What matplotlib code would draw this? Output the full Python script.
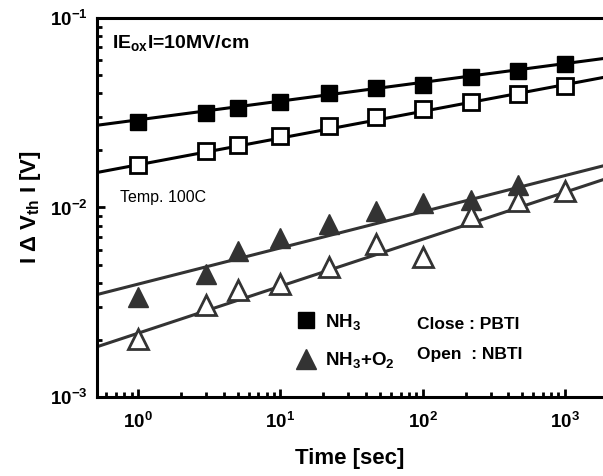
import numpy as np
import matplotlib
matplotlib.use("Agg")
import matplotlib.pyplot as plt
from matplotlib.lines import Line2D

plt.rcParams['font.family'] = ['Liberation Sans', 'DejaVu Sans']
plt.rcParams['font.weight'] = 'bold'
plt.rcParams['mathtext.fontset'] = 'custom'
plt.rcParams['mathtext.rm'] = 'Liberation Sans:bold'
plt.rcParams['mathtext.bf'] = 'Liberation Sans:bold'
plt.rcParams['mathtext.it'] = 'Liberation Sans:bold'
plt.rcParams['mathtext.default'] = 'bf'

# stress time [sec]
t_sq = [1, 3, 5, 10, 22, 47, 100, 220, 470, 1000]
t_tri_close = [1, 3, 5, 10, 22, 47, 100, 220, 470]
t_tri_open = [1, 3, 5, 10, 22, 47, 100, 220, 470, 1000]

# |dVth| [V]
nh3_pbti = [0.0282, 0.0314, 0.0334, 0.0360, 0.0401, 0.0426, 0.0442, 0.0488, 0.0524, 0.0571]
nh3_nbti = [0.0167, 0.0198, 0.0213, 0.0238, 0.0268, 0.0299, 0.0330, 0.0360, 0.0396, 0.0437]
nh3o2_pbti = [0.00338, 0.00448, 0.00592, 0.00694, 0.00823, 0.00964, 0.0105, 0.0110, 0.0132]
nh3o2_nbti = [0.00203, 0.00307, 0.00368, 0.00396, 0.00488, 0.00645, 0.00550, 0.00907, 0.0108, 0.0122]

# power-law fit lines  dVth = A * t^n
fit_A = [0.0290, 0.0168, 0.00394, 0.00217]
fit_n = [0.099, 0.141, 0.191, 0.248]
fit_color = ['black', 'black', '#333333', '#333333']

fig = plt.figure(figsize=(6.03, 4.76), dpi=100)
ax = fig.add_axes([0.1609, 0.166, 0.8391, 0.7962])
xmin, xmax = 0.515, 1850
tt = np.logspace(np.log10(xmin), np.log10(xmax), 50)
for A, n, c in zip(fit_A, fit_n, fit_color):
    ax.plot(tt, A * tt ** n, color=c, lw=2.2, zorder=2)

ax.plot(t_sq, nh3_pbti, 's', color='black', ms=12, zorder=3)
ax.plot(t_sq, nh3_nbti, 's', mfc='white', mec='black', mew=2, ms=11, zorder=3)
ax.plot(t_tri_close, nh3o2_pbti, '^', color='#333333', ms=15, zorder=3)
ax.plot(t_tri_open, nh3o2_nbti, '^', mfc='white', mec='#333333', mew=2, ms=14, zorder=3)

ax.set_xscale('log')
ax.set_yscale('log')
ax.set_xlim(xmin, xmax)
ax.set_ylim(1e-3, 1e-1)

for s in ['left', 'bottom', 'top']:
    ax.spines[s].set_linewidth(2.2)
ax.spines['right'].set_visible(False)
ax.tick_params(which='both', direction='in', top=False, right=False, width=2)
ax.tick_params(which='major', length=6, labelsize=13.5)
ax.tick_params(axis='x', which='major', pad=11)
ax.tick_params(axis='y', which='major', pad=7)
ax.tick_params(which='minor', length=3.5)

ax.set_xlabel('Time [sec]', fontsize=16, fontweight='bold', labelpad=11)
ax.set_ylabel(r'I $\Delta$ V$_{\mathbf{th}}$ I [V]', fontsize=16, fontweight='bold', labelpad=5)

ax.text(0.03, 0.96, r'IE$_{\mathbf{ox}}$I=10MV/cm', transform=ax.transAxes,
        fontsize=14, fontweight='bold', va='top')
ax.text(0.045, 0.527, 'Temp. 100C', transform=ax.transAxes, fontsize=11.5,
        fontweight='normal', va='center')

handles = [Line2D([], [], marker='s', color='black', ls='none', ms=12),
           Line2D([], [], marker='^', color='#333333', ls='none', ms=15)]
ax.legend(handles, [r'NH$_3$', r'NH$_3$+O$_2$'], loc='upper left',
          bbox_to_anchor=(0.38, 0.245), frameon=False, fontsize=13.5,
          handlelength=1.0, handletextpad=0.5, labelspacing=1.0, borderaxespad=0)
ax.text(0.633, 0.19, 'Close : PBTI', transform=ax.transAxes, fontsize=12.5,
        fontweight='bold', va='center')
ax.text(0.633, 0.113, 'Open  : NBTI', transform=ax.transAxes, fontsize=12.5,
        fontweight='bold', va='center')

fig.savefig('out.png', dpi=100)
